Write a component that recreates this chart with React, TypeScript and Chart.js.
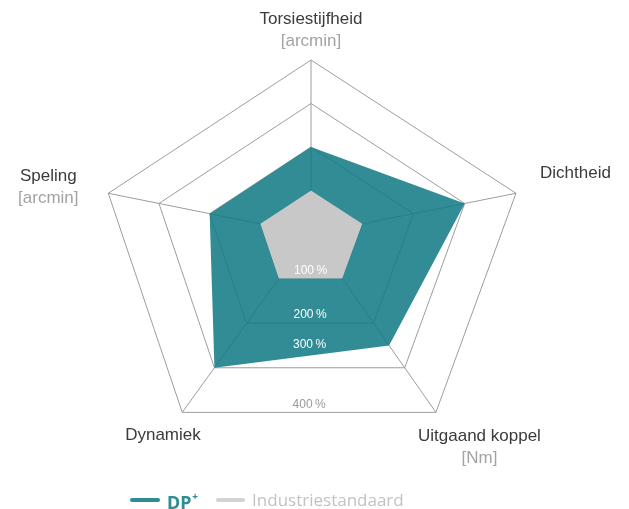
import React, { useEffect, useRef } from 'react';
import { Chart, registerables, RadialLinearScale } from 'chart.js';

Chart.register(...registerables);

// ---- data ----
const AXES = ['Torsiestijfheid', 'Dichtheid', 'Uitgaand koppel', 'Dynamiek', 'Speling'];
const AXIS_UNITS = ['[arcmin]', '', '[Nm]', '', '[arcmin]'];
const SERIES = ['DP', 'Industriestandaard'];
const DP_PLUS = [200, 300, 250, 300, 200];
const INDUSTRY = [100, 100, 100, 100, 100];
const RING_TICKS = [100, 200, 300, 400];
const TICK_SUFFIX = '\u2009%';

// ---- styling ----
const TEAL_FILL = 'rgba(19,123,134,0.87)';
const TEAL = 'rgb(47,139,148)';
const GREY_FILL = '#c7c8c7';
const GRID = '#9d9d9d';
const LABEL_FONT = '17px "Liberation Sans", Arial, sans-serif';
const TICK_FONT = '12px "Liberation Sans", Arial, sans-serif';

// Spoke directions of the (slightly irregular) pentagon, per unit of radius
const SPOKES: [number, number][] = [
  [0, -1],
  [1.178, -0.234],
  [0.718, 1.025],
  [-0.74, 1.025],
  [-1.165, -0.234],
];

// Where each axis title sits relative to its outer vertex
const TITLE_OFFSETS: [number, number][] = [
  [0, -41],
  [59.5, -20],
  [43.5, 23.5],
  [-19.3, 22.5],
  [-60, -17],
];

class PentagonScale extends RadialLinearScale {
  static id = 'pentagon';
  static defaults = RadialLinearScale.defaults;
  static defaultRoutes = RadialLinearScale.defaultRoutes;
  static descriptors = RadialLinearScale.descriptors;

  getPointPosition(index: number, distance: number, additionalAngle = 0) {
    const [dx, dy] = SPOKES[index % SPOKES.length];
    return {
      x: this.xCenter + dx * distance,
      y: this.yCenter + dy * distance,
      angle: Math.atan2(dy, dx) + additionalAngle,
    };
  }
}
Chart.register(PentagonScale);

const labelsPlugin = {
  id: 'pentagonLabels',
  afterDatasetsDraw(chart: any) {
    const scale = chart.scales.r;
    const ctx = chart.ctx as CanvasRenderingContext2D;
    ctx.save();
    ctx.textAlign = 'center';
    ctx.textBaseline = 'middle';

    // ring values, stacked along the bottom edge
    ctx.font = TICK_FONT;
    RING_TICKS.forEach((v) => {
      const a = scale.getPointPositionForValue(2, v);
      const b = scale.getPointPositionForValue(3, v);
      const lift = v === 300 ? 23 : 8; // 300 % is raised to stay inside the filled band
      ctx.fillStyle = v < 400 ? '#ffffff' : '#9a9a9a';
      ctx.fillText(v + TICK_SUFFIX, (a.x + b.x) / 2, (a.y + b.y) / 2 - lift);
    });

    // axis titles with units
    ctx.font = LABEL_FONT;
    AXES.forEach((name, i) => {
      const p = scale.getPointPositionForValue(i, scale.max);
      const [ox, oy] = TITLE_OFFSETS[i];
      ctx.fillStyle = '#3b3b3b';
      ctx.fillText(name, p.x + ox, p.y + oy);
      if (AXIS_UNITS[i]) {
        ctx.fillStyle = '#a3a3a3';
        ctx.fillText(AXIS_UNITS[i], p.x + ox, p.y + oy + 22.5);
      }
    });
    ctx.restore();
  },
};

export default function App() {
  const canvasRef = useRef<HTMLCanvasElement | null>(null);

  useEffect(() => {
    document.body.style.margin = '0';
    const chart = new Chart(canvasRef.current as HTMLCanvasElement, {
      type: 'radar',
      data: {
        labels: AXES,
        datasets: [
          {
            label: SERIES[0],
            data: DP_PLUS,
            backgroundColor: TEAL_FILL,
            borderColor: 'transparent',
            borderWidth: 0,
            pointRadius: 0,
            fill: true,
            order: 2,
          },
          {
            label: SERIES[1],
            data: INDUSTRY,
            backgroundColor: GREY_FILL,
            borderColor: 'transparent',
            borderWidth: 0,
            pointRadius: 0,
            fill: true,
            order: 1,
          },
        ],
      },
      options: {
        responsive: false,
        animation: false,
        layout: { padding: { left: 8, right: 14, top: 60, bottom: 101 } },
        elements: { line: { tension: 0 } },
        plugins: { legend: { display: false }, tooltip: { enabled: false } },
        scales: {
          r: {
            type: 'pentagon' as any,
            min: 0,
            max: 400,
            ticks: { display: false, stepSize: 100 },
            grid: { color: GRID, lineWidth: 1 },
            angleLines: { color: GRID, lineWidth: 1 },
            pointLabels: { display: false },
          } as any,
        },
      },
      plugins: [labelsPlugin],
    });
    return () => chart.destroy();
  }, []);

  const legendText: React.CSSProperties = {
    fontFamily: '"Open Sans", sans-serif',
    fontSize: 17,
    lineHeight: '20px',
  };

  return (
    <div style={{ position: 'absolute', left: 0, top: 0, width: 629, height: 509, overflow: 'hidden', background: '#fff' }}>
      <canvas ref={canvasRef} width={629} height={509} style={{ display: 'block' }} />
      <div
        style={{
          position: 'absolute',
          left: 130,
          top: 490,
          height: 20,
          display: 'flex',
          alignItems: 'center',
        }}
      >
        <span style={{ width: 30, height: 4, borderRadius: 2, background: TEAL, marginRight: 7 }} />
        <span style={{ ...legendText, fontFamily: '"Noto Sans", "Open Sans", sans-serif', fontWeight: 700, fontSize: 18, color: TEAL }}>
          {SERIES[0]}
          <sup style={{ fontSize: 10, position: 'relative', top: -2, marginLeft: 1 }}>+</sup>
        </span>
        <span style={{ width: 29, height: 4, borderRadius: 2, background: '#d3d3d3', marginLeft: 18, marginRight: 7 }} />
        <span style={{ ...legendText, color: '#c2c2c2' }}>{SERIES[1]}</span>
      </div>
    </div>
  );
}
